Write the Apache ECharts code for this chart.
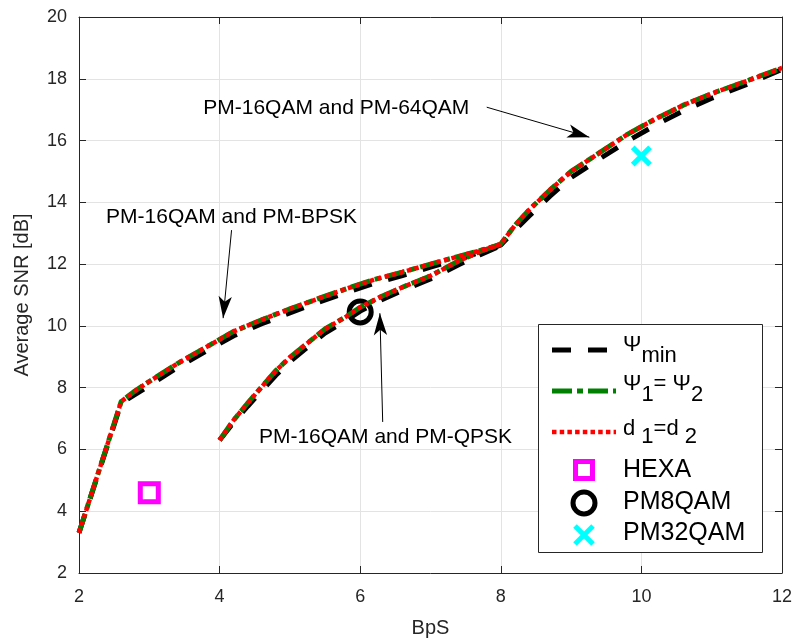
<!DOCTYPE html>
<html>
<head>
<meta charset="utf-8">
<script src="https://cdn.jsdelivr.net/npm/echarts@6/dist/echarts.min.js"></script>
<style>
  html, body { margin: 0; padding: 0; background: #fff; }
  #chart { width: 795px; height: 644px; }
</style>
</head>
<body>
<div id="chart"></div>
<script>
// ---- data ----
const xTicks = [2, 4, 6, 8, 10, 12];
const yTicks = [2, 4, 6, 8, 10, 12, 14, 16, 18, 20];

// upper branch (PM-16QAM & PM-BPSK, then PM-16QAM & PM-64QAM)
const upperX      = [2.0, 2.2, 2.4, 2.6, 2.8, 3.0, 3.4, 3.8, 4.2, 4.6, 5.0, 5.4, 5.8, 6.2, 6.6, 7.0, 7.4, 7.8, 8.0, 8.2, 8.4, 8.7, 9.0, 9.4, 9.8, 10.2, 10.6, 11.0, 11.5, 12.0];
const psiMinUpper = [3.3, 4.7, 6.1, 7.5, 7.78, 8.07, 8.65, 9.17, 9.68, 10.07, 10.42, 10.76, 11.08, 11.38, 11.63, 11.9, 12.17, 12.44, 12.62, 13.1, 13.55, 14.2, 14.8, 15.4, 15.98, 16.5, 16.97, 17.37, 17.82, 18.3];
const psiEqUpper  = [3.3, 4.72, 6.13, 7.55, 7.9, 8.2, 8.78, 9.3, 9.82, 10.2, 10.55, 10.88, 11.2, 11.5, 11.74, 12.0, 12.25, 12.5, 12.65, 13.25, 13.75, 14.4, 15.0, 15.6, 16.2, 16.7, 17.15, 17.52, 17.93, 18.35];
const dEqUpper    = [3.3, 4.72, 6.13, 7.55, 7.9, 8.2, 8.78, 9.3, 9.82, 10.2, 10.55, 10.88, 11.2, 11.5, 11.74, 12.0, 12.25, 12.5, 12.65, 13.25, 13.75, 14.4, 15.0, 15.6, 16.2, 16.7, 17.15, 17.52, 17.93, 18.35];

// lower branch (PM-16QAM & PM-QPSK)
const lowerX      = [4.0, 4.2, 4.4, 4.6, 4.8, 5.0, 5.2, 5.5, 5.8, 6.0, 6.3, 6.6, 7.0, 7.4, 7.7, 8.0];
const psiMinLower = [6.3, 6.88, 7.4, 7.9, 8.4, 8.84, 9.22, 9.77, 10.18, 10.48, 10.84, 11.15, 11.52, 11.98, 12.3, 12.6];
const psiEqLower  = [6.3, 6.95, 7.5, 8.03, 8.55, 8.98, 9.35, 9.9, 10.3, 10.6, 10.95, 11.25, 11.62, 12.1, 12.4, 12.65];
const dEqLower    = [6.3, 6.95, 7.5, 8.03, 8.55, 8.98, 9.35, 9.9, 10.3, 10.6, 10.95, 11.25, 11.62, 12.1, 12.4, 12.65];

// single reference points
const hexaX = [3.0],    hexaY = [4.6];
const pm8X = [6.0],     pm8Y = [10.45];
const pm32X = [10.0],   pm32Y = [15.5];

// legend names
const legendNames = ['\u03a8min', '\u03a81=\u03a82', 'd1=d2', 'HEXA', 'PM8QAM', 'PM32QAM'];

// annotation texts and arrows (data coordinates)
const annoText = ['PM-16QAM and PM-64QAM', 'PM-16QAM and PM-BPSK', 'PM-16QAM and PM-QPSK'];
const annoPos  = [[5.66, 17.05], [4.17, 13.52], [6.36, 6.40]];
const arrowFrom = [[7.8, 17.08], [4.17, 13.1], [6.32, 6.89]];
const arrowTo   = [[9.26, 16.11], [4.05, 10.25], [6.28, 10.41]];

// ---- build ----
const zip = (xs, ys) => xs.map((x, i) => [x, ys[i]]);
const FONT = 'Liberation Sans, Arial, Helvetica, sans-serif';
const AX = '#262626';

const blackLine = { color: '#000000', width: 5, type: [19, 17], cap: 'butt' };
const greenLine = { color: '#008000', width: 5, type: [20, 5, 6, 5], cap: 'butt' };
const redLine   = { color: '#ff0000', width: 4.5, type: [4.5, 3.2], cap: 'butt' };

function lineSeries(name, xs, ys, ls, z) {
  return {
    type: 'line', name: name, data: zip(xs, ys), showSymbol: false, symbol: 'none',
    lineStyle: ls, itemStyle: { color: ls.color }, z: z, animation: false, silent: true
  };
}

const xPath = 'path://M3.5,0 L10,6.5 L16.5,0 L20,3.5 L13.5,10 L20,16.5 L16.5,20 L10,13.5 L3.5,20 L0,16.5 L6.5,10 L0,3.5 Z';

const series = [
  { type: 'scatter', name: legendNames[3], data: zip(hexaX, hexaY), symbol: 'rect', symbolSize: 18,
    itemStyle: { color: 'rgba(255,255,255,0)', borderColor: '#ff00ff', borderWidth: 5, opacity: 1 }, z: 2, animation: false, silent: true },
  { type: 'scatter', name: legendNames[4], data: zip(pm8X, pm8Y), symbol: 'circle', symbolSize: 22,
    itemStyle: { color: 'rgba(255,255,255,0)', borderColor: '#000000', borderWidth: 5, opacity: 1 }, z: 2, animation: false, silent: true },
  { type: 'scatter', name: legendNames[5], data: zip(pm32X, pm32Y), symbol: xPath, symbolSize: 21,
    itemStyle: { color: '#00ffff', opacity: 1 }, z: 2, animation: false, silent: true },
  lineSeries(legendNames[0], upperX, psiMinUpper, blackLine, 3),
  lineSeries(legendNames[0], lowerX, psiMinLower, blackLine, 3),
  lineSeries(legendNames[1], upperX, psiEqUpper, greenLine, 4),
  lineSeries(legendNames[1], lowerX, psiEqLower, greenLine, 4),
  lineSeries(legendNames[2], upperX, dEqUpper, redLine, 5),
  lineSeries(legendNames[2], lowerX, dEqLower, redLine, 5),
  {
    type: 'scatter', name: 'annotations', symbolSize: 1, z: 6, animation: false, silent: true,
    itemStyle: { color: 'rgba(0,0,0,0)', opacity: 1 },
    data: annoText.map((t, i) => ({ name: t, value: annoPos[i] })),
    label: { show: true, position: 'inside', formatter: p => p.name, color: '#000000', opacity: 1, fontSize: 21, fontFamily: FONT },
    markLine: {
      silent: true, animation: false,
      symbol: ['none', 'arrow'], symbolSize: [10, 22],
      label: { show: false },
      lineStyle: { color: '#000', width: 1, type: 'solid', opacity: 1 },
      itemStyle: { color: '#000' },
      emphasis: { disabled: true },
      data: arrowFrom.map((f, i) => [{ coord: f }, { coord: arrowTo[i] }])
    }
  }
];

// ---- legend drawn as graphic (box at the lower right of the plot) ----
const LX = 538, LY = 324, LW = 224, LH = 228;
const iconX0 = 552, iconX1 = 616, textX = 623, iconC = 584;
const richSub = (L) => ({
  m: { fontSize: 22, fontFamily: FONT, color: '#000', lineHeight: L, verticalAlign: 'middle' },
  s: { fontSize: 22, fontFamily: FONT, color: '#000', lineHeight: 16, verticalAlign: 'bottom' }
});
const legendGraphic = [
  { type: 'rect', shape: { x: LX + 0.5, y: LY + 0.5, width: LW, height: LH },
    style: { fill: '#ffffff', stroke: AX, lineWidth: 1 }, z: 100, silent: true },
  { type: 'line', shape: { x1: iconX0, y1: 350, x2: iconX1, y2: 350 },
    style: { stroke: blackLine.color, lineWidth: blackLine.width, lineDash: blackLine.type, lineCap: 'butt' }, z: 101, silent: true },
  { type: 'line', shape: { x1: iconX0, y1: 391, x2: iconX1, y2: 391 },
    style: { stroke: greenLine.color, lineWidth: greenLine.width, lineDash: greenLine.type, lineCap: 'butt' }, z: 101, silent: true },
  { type: 'line', shape: { x1: iconX0, y1: 432, x2: iconX1, y2: 432 },
    style: { stroke: redLine.color, lineWidth: redLine.width, lineDash: redLine.type, lineCap: 'butt' }, z: 101, silent: true },
  { type: 'rect', shape: { x: iconC - 8.5, y: 470 - 8.5, width: 17, height: 17 },
    style: { fill: 'rgba(0,0,0,0)', stroke: '#ff00ff', lineWidth: 5 }, z: 101, silent: true },
  { type: 'circle', shape: { cx: iconC, cy: 503, r: 11 },
    style: { fill: 'rgba(0,0,0,0)', stroke: '#000000', lineWidth: 5 }, z: 101, silent: true },
  { type: 'line', shape: { x1: iconC - 9, y1: 526, x2: iconC + 9, y2: 544 },
    style: { stroke: '#00ffff', lineWidth: 5, lineCap: 'butt' }, z: 101, silent: true },
  { type: 'line', shape: { x1: iconC - 9, y1: 544, x2: iconC + 9, y2: 526 },
    style: { stroke: '#00ffff', lineWidth: 5, lineCap: 'butt' }, z: 101, silent: true },
  { type: 'text', x: textX, y: 345, z: 102, silent: true,
    style: { text: '{m|\u03a8}{s|min}', rich: richSub(44), verticalAlign: 'middle', align: 'left' } },
  { type: 'text', x: textX, y: 384, z: 102, silent: true,
    style: { text: '{m|\u03a8}{s|1}{m|= \u03a8}{s|2}', rich: richSub(44), verticalAlign: 'middle', align: 'left' } },
  { type: 'text', x: textX, y: 429, z: 102, silent: true,
    style: { text: '{m|d}{s| 1}{m|=d}{s| 2}', rich: richSub(38), verticalAlign: 'middle', align: 'left' } },
  { type: 'text', x: textX, y: 470, z: 102, silent: true,
    style: { text: legendNames[3], fontSize: 25, fontFamily: FONT, fill: '#000', verticalAlign: 'middle', align: 'left' } },
  { type: 'text', x: textX, y: 502, z: 102, silent: true,
    style: { text: legendNames[4], fontSize: 25, fontFamily: FONT, fill: '#000', verticalAlign: 'middle', align: 'left' } },
  { type: 'text', x: textX, y: 533, z: 102, silent: true,
    style: { text: legendNames[5], fontSize: 25, fontFamily: FONT, fill: '#000', verticalAlign: 'middle', align: 'left' } }
];

const option = {
  backgroundColor: '#ffffff',
  animation: false,
  grid: { left: 79, right: 12, top: 17, bottom: 71, containLabel: false },
  xAxis: [
    { type: 'value', min: xTicks[0], max: xTicks[xTicks.length - 1], interval: 2, position: 'bottom',
      name: 'BpS', nameLocation: 'middle', nameGap: 45,
      nameTextStyle: { fontSize: 20, color: AX, fontFamily: FONT },
      axisLine: { show: true, onZero: false, lineStyle: { color: AX, width: 1 } },
      axisTick: { show: true, inside: true, length: 7, lineStyle: { color: AX } },
      axisLabel: { fontSize: 18, color: AX, fontFamily: FONT, margin: 15 },
      splitLine: { show: true, lineStyle: { color: '#e3e3e3', width: 1 } } },
    { type: 'value', min: xTicks[0], max: xTicks[xTicks.length - 1], interval: 2, position: 'top',
      axisLine: { show: true, onZero: false, lineStyle: { color: AX, width: 1 } },
      axisTick: { show: true, inside: true, length: 7, lineStyle: { color: AX } },
      axisLabel: { show: false }, splitLine: { show: false } }
  ],
  yAxis: [
    { type: 'value', min: yTicks[0], max: yTicks[yTicks.length - 1], interval: 2, position: 'left',
      name: 'Average SNR [dB]', nameLocation: 'middle', nameGap: 47,
      nameTextStyle: { fontSize: 20, color: AX, fontFamily: FONT },
      axisLine: { show: true, onZero: false, lineStyle: { color: AX, width: 1 } },
      axisTick: { show: true, inside: true, length: 7, lineStyle: { color: AX } },
      axisLabel: { fontSize: 18, color: AX, fontFamily: FONT, margin: 12 },
      splitLine: { show: true, lineStyle: { color: '#e3e3e3', width: 1 } } },
    { type: 'value', min: yTicks[0], max: yTicks[yTicks.length - 1], interval: 2, position: 'right',
      axisLine: { show: true, onZero: false, lineStyle: { color: AX, width: 1 } },
      axisTick: { show: true, inside: true, length: 7, lineStyle: { color: AX } },
      axisLabel: { show: false }, splitLine: { show: false } }
  ],
  graphic: legendGraphic,
  series: series
};

const chart = echarts.init(document.getElementById('chart'), null, { renderer: 'canvas' });
chart.setOption(option);
</script>
</body>
</html>
